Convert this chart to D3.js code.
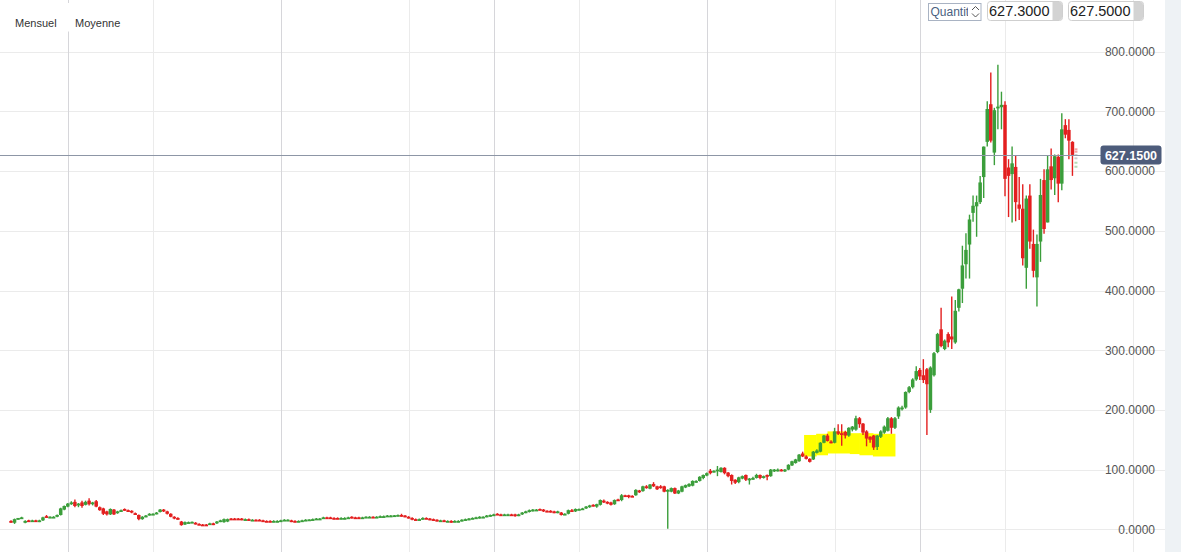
<!DOCTYPE html>
<html><head><meta charset="utf-8">
<script src="https://cdn.jsdelivr.net/npm/d3@7"></script>
<style>
html,body{margin:0;padding:0;background:#fff;overflow:hidden;}
svg{display:block;font-family:"Liberation Sans",Arial,Helvetica,sans-serif;}
</style></head><body>
<svg id="c" width="1181" height="552"></svg>
<script>
// Monthly candles (index 0..299), price units
const opens = [
14,11,17,19,11,15,14,15,13,15,
22,20,20,21,24,33,38,43,46,40,
45,41,48,42,47,37,35,30,25,33,
27,30,34,32,31,27,24,17,21,24,
25,26,29,33,30,26,21,19,13,8,
11,11.5,11,9,8,8,8,10,10,13,
12,13,18,18,18,18,16,17,15,16,
16,15,14,14,13,13,14,15,15,15,
14,13,14,15,16,16,17,17,19,20,
20,19,19,18,18,19,21,20,20,19,
20,20,21,20,21,21,22,22,23,23,
24,23,21,19,17,16,17,19,18,17,
16,14,15,13,14,13,13,14,15,16,
18,19,19,20,21,22,24,26,25,24,
24,25,25,23,25,28,29,31,32,34,
33,31,31,30,28,28,25,26,32,30,
33,34,35,37,41,38,41,48,46,45,
42,50,49,57,57,56,57,65,64,72,
68,76,72,72,72,65,63,69,60,63,
70,72,73,79,81,86,90,98,96,97,
96,103,95,91,83,79,85,91,83,84,
86,91,86,91,89,97,99,100,97,100,
107,111,114,127,122,118,117,128,130,145,
157,147,145,164,161,163,157,167,167,186,
177,164,155,157,138,155,162,165,186,170,
189,202,204,230,238,251,267,258,268,200,
258,297,335,302,327,323,313,371,403,444,
477,530,541,548,590,649,712,631,705,707,
711,606,595,607,544,537,438,559,478,422,
482,585,514,608,588,624,579,677,669,649];
const highs = [
15,18,19,21,15,16,16,16,16,21,
24,22,22,25,36,40,44,47,50,44,
48,48,52,46,49,38,36,31,35,34,
31,33,35,33,32,28,25,22,24,27,
27,29,34,34,31,27,22,20,14,13,
13,13,12,10,9,9,11,11,14,16,
18,18,19,19,19,19,18,18,17,17,
17,16,15,15,15,15,16,17,17,16,
15,15,16,17,17,18,19,19,21,21,
21,20,20,20,20,21,22,21,21,21,
22,22,22,22,23,23,24,24,24,25,
26,24,22,20,18,18,20,20,19,18,
17,16,16,15,15,15,15,17,18,19,
20,21,22,22,24,25,26,27,26,26,
26,26,26,26,29,31,33,34,34,35,
34,32,32,31,31,29,27,33,34,35,
35,36,39,41,42,43,50,50,47,46,
50,51,59,58,58,57,67,66,73,74,
76,79,73,74,73,67,70,70,66,73,
75,77,82,82,89,92,95,101,99,106,
104,104,96,92,84,88,90,92,86,88,
93,92,90,92,101,101,102,101,101,109,
115,118,126,130,124,119,131,134,146,158,
160,149,170,176,176,165,171,173,190,188,
178,166,156,158,158,166,174,188,188,188,
206,207,231,240,253,273,270,285,270,273,
297,329,371,318,330,390,384,403,475,496,
527,559,559,592,641,717,765,706,778,733,
717,620,641,627,590,578,559,578,502,494,
587,603,627,638,628,628,697,687,687,650];
const lows = [
11,9,16,18,10,13,13,13,12,14,
20,19,19,20,23,32,37,41,37,37,
36,40,40,40,37,31,24,23,24,24,
26,29,31,30,27,24,15,16,20,23,
24,25,28,29,25,20,17,16,6,7,
10,11,8,7,6,6,7,7,9,12,
11,12,16,16,16,15,15,15,14,14,
14,13,12,12,12,12,13,14,14,12,
12,12,13,14,15,15,16,16,18,18,
18,17,17,17,17,18,18,18,18,18,
19,19,19,19,20,20,21,21,22,22,
21,20,18,15,15,15,16,17,15,14,
13,13,13,12,11,12,12,13,14,15,
17,18,18,19,20,21,23,24,23,23,
23,23,21,22,24,27,28,30,31,32,
29,29,28,27,27,23,24,25,30,29,
32,33,34,36,38,36,40,44,42,40,
41,48,47,54,52,54,56,61,63,68,
67,71,66,68,62,1,62,59,59,62,
69,71,72,78,80,84,89,92,95,89,
95,92,87,75,76,77,84,81,75,83,
85,84,85,82,88,96,97,97,96,99,
106,110,113,121,117,112,116,127,129,144,
147,144,144,158,140,152,155,164,165,170,
158,139,145,133,133,153,160,164,160,168,
185,199,202,228,236,249,250,245,158,195,
256,295,305,300,305,302,311,365,379,420,
420,515,490,545,555,641,648,610,670,670,
558,523,514,516,518,442,403,470,422,373,
448,495,514,569,560,548,568,655,620,592];
const closes = [
12,17,19,20,14,14,15,14,15,20,
21,21,21,24,35,39,43,45,39,43,
39,46,42,45,38,32,26,25,34,25,
30,32,32,31,28,25,17,21,23,26,
26,28,33,30,26,21,18,17,7,12,
12,12.5,9,8,7,7,10,8,13,15,
17,17,17,17,17,16,17,16,16,15,
15,14,13,13,14,14,15,16,16,13,
13,14,15,16,16.5,17,18,18,20,19,
19,18,18,19,19,20,19,19,19,20,
21,21,20,21,22,22,23,23,23.5,24,
22,21,19,16,16,17,19,18,16,15,
14,15,14,14,13,14,14,16,17,18,
19,20,21,21,23,24,25,25,24,25,
25,24,23,25,28,30,32,33,33,33,
30,30,29,28,30,24,26,32,31,34,
34,35,38,40,39,42,49,45,43,41,
49,49,57,55,54,55,66,62,72,69,
75,72,67,69,63,66,69,60,65,72,
74,76,81,81,88,91,94,94,98,100,
103,94,89,81,78,87,89,83,85,86,
91,86,89,89,100,100,100,98,100,108,
114,117,125,122,118,113,130,132,145,157,
148,145,164,160,159,157,170,172,186,176,
162,152,150,137,157,164,172,186,170,186,
204,204,230,238,251,265,256,250,243,271,
295,327,307,316,313,318,366,402,442,468,
519,542,548,581,641,704,651,702,708,711,
587,592,613,548,537,454,554,482,433,478,
560,503,603,585,625,579,670,661,651,627.15];

const priceTicks = [0,100,200,300,400,500,600,700,800];
const majorMonthTicks = [16,76,136,196,256];
const minorMonthTicks = [40,112,160,232,280,316];
const lastPrice = 627.15;
const bidAsk = ["Quantit", "627.3000", "627.5000"];
const tabs = ["Mensuel", "Moyenne"];
// highlighted zone: [fromIndex, toIndex, topPrice, bottomPrice]
const highlight = [
  [223.4, 226.8, 158, 122],
  [226.8, 230.0, 160, 124],
  [230.0, 236.3, 164, 127],
  [236.3, 239.0, 161, 126],
  [239.0, 242.8, 161, 124],
  [242.8, 249.0, 160, 122]
];
const depthPrices = [636.5, 632.5, 627, 621.4, 614, 607.3];
const depthSides = ["ask","ask","mid","mid","bid","bid"];

const N = closes.length;
const svg = d3.select("#c");
const W = 1181, H = 552;
const x = d3.scaleLinear().domain([0, N - 1]).range([11, 1072.45]);
const y = d3.scaleLinear().domain([0, 800]).range([529.3, 51.7]);

// right panel
svg.append("rect").attr("x", 1165).attr("y", 0).attr("width", W - 1165).attr("height", H).attr("fill", "#eef2f5");

// horizontal grid
svg.append("g").selectAll("line").data(priceTicks).join("line")
  .attr("x1", 0).attr("x2", 1165)
  .attr("y1", d => Math.round(y(d)) + 0.5).attr("y2", d => Math.round(y(d)) + 0.5)
  .attr("stroke", "#ebebeb").attr("stroke-width", 1);

// vertical grid
svg.append("g").selectAll("line").data(minorMonthTicks).join("line")
  .attr("x1", d => Math.round(x(d)) + 0.5).attr("x2", d => Math.round(x(d)) + 0.5)
  .attr("y1", 0).attr("y2", H).attr("stroke", "#ebebeb");
svg.append("g").selectAll("line").data(majorMonthTicks).join("line")
  .attr("x1", d => Math.round(x(d)) + 0.5).attr("x2", d => Math.round(x(d)) + 0.5)
  .attr("y1", 0).attr("y2", H).attr("stroke", "#d6d6da");

// highlight
svg.append("g").selectAll("rect").data(highlight).join("rect")
  .attr("x", d => x(d[0])).attr("width", d => x(d[1]) - x(d[0]) + 0.5)
  .attr("y", d => y(d[2])).attr("height", d => y(d[3]) - y(d[2]))
  .attr("fill", "#ffff00");

// candles
const data = d3.range(N).map(i => ({i, o: opens[i], h: highs[i], l: lows[i], c: closes[i]}));
const green = "#3b9e3b", red = "#e31f1f";
const cg = svg.append("g");
cg.selectAll("line.w").data(data).join("line").attr("class", "w")
  .attr("x1", d => x(d.i)).attr("x2", d => x(d.i))
  .attr("y1", d => y(d.h)).attr("y2", d => y(d.l))
  .attr("stroke", d => d.c >= d.o ? green : red).attr("stroke-width", 1.4);
const bw = 3.5;
cg.selectAll("rect.b").data(data).join("rect").attr("class", "b")
  .attr("x", d => x(d.i) - bw / 2).attr("width", bw)
  .attr("y", d => y(Math.max(d.o, d.c)))
  .attr("height", d => Math.max(1.8, Math.abs(y(d.o) - y(d.c))))
  .attr("fill", d => d.c >= d.o ? green : red);

// depth markers
const depthColor = {ask: "#f3a3a3", mid: "#cfcfcf", bid: "#b6dcb6"};
svg.append("g").selectAll("rect").data(depthPrices).join("rect")
  .attr("x", x(N - 1) + 2).attr("width", 3)
  .attr("y", d => y(d) - 1).attr("height", 2)
  .attr("fill", (d, k) => depthColor[depthSides[k]]);

// last price line + label
const yl = Math.round(y(lastPrice)) + 0.5;
svg.append("line").attr("x1", 0).attr("x2", 1101).attr("y1", yl).attr("y2", yl)
  .attr("stroke", "#8d96a6").attr("stroke-width", 1);

// y axis labels
const axis = d3.axisLeft(y).tickValues(priceTicks).tickSize(0).tickPadding(0)
  .tickFormat(d3.format(".4f"));
const ag = svg.append("g").attr("transform", "translate(1155,0)").call(axis);
ag.select(".domain").remove();
ag.selectAll("text").attr("font-size", 12).attr("fill", "#555")
  .attr("font-family", "'Liberation Sans',Arial,sans-serif");

svg.append("rect").attr("x", 1100.5).attr("y", yl - 10).attr("width", 61).attr("height", 19)
  .attr("rx", 3).attr("fill", "#4d5c7b");
svg.append("text").attr("x", 1131).attr("y", yl + 4.5).attr("text-anchor", "middle")
  .attr("font-size", 12.5).attr("font-weight", "bold").attr("fill", "#fff")
  .text(d3.format(".4f")(lastPrice));

// top-left tabs
svg.append("rect").attr("x", 4).attr("y", 3).attr("width", 126).attr("height", 28.5).attr("fill", "#fff");
svg.append("g").selectAll("text").data(tabs).join("text")
  .attr("x", (d, k) => [15, 75][k]).attr("y", 26.5)
  .attr("font-size", 11).attr("fill", "#333").text(d => d);

// top-right widgets
const wg = svg.append("g");
wg.append("clipPath").attr("id", "selclip").append("rect")
  .attr("x", 929).attr("y", 3).attr("width", 39).attr("height", 18);
wg.append("rect").attr("x", 928.5).attr("y", 3.5).attr("width", 52.5).attr("height", 17)
  .attr("fill", "#fff").attr("stroke", "#a9b3c3");
wg.append("text").attr("x", 930.5).attr("y", 16.2).attr("font-size", 12)
  .attr("fill", "#4a5f80").attr("clip-path", "url(#selclip)").text(bidAsk[0]);
wg.append("path").attr("d", "M972,10 L975.5,6.5 L979,10 M972,13.5 L975.5,17 L979,13.5")
  .attr("fill", "none").attr("stroke", "#555").attr("stroke-width", 1);
[[987.5, bidAsk[1]], [1068.5, bidAsk[2]]].forEach(([bx, t]) => {
  wg.append("rect").attr("x", bx).attr("y", 1.5).attr("width", 75).attr("height", 19)
    .attr("rx", 3).attr("fill", "#fff").attr("stroke", "#cfcfcf");
  wg.append("path").attr("d", `M${bx + 65},2 L${bx + 72},2 Q${bx + 74.5},2 ${bx + 74.5},5 L${bx + 74.5},17 Q${bx + 74.5},20 ${bx + 72},20 L${bx + 65},20 Z`)
    .attr("fill", "#d3d3d3");
  wg.append("text").attr("x", bx + 1.5).attr("y", 16).attr("font-size", 14.5)
    .attr("fill", "#222").text(t);
});
</script>
</body></html>
